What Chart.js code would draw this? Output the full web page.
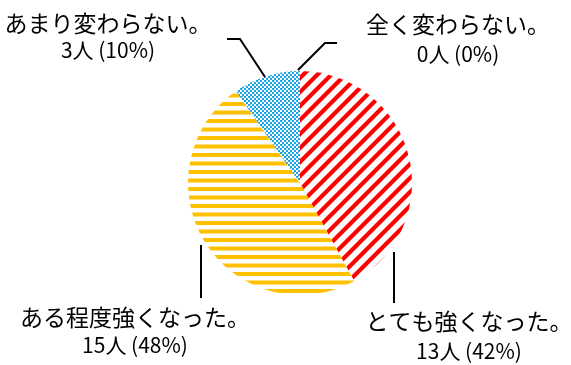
<!DOCTYPE html>
<html>
<head>
<meta charset="utf-8">
<script src="https://cdn.jsdelivr.net/npm/chart.js@4/dist/chart.umd.min.js"></script>
<style>
  body { margin: 0; background: #fff; }
  #wrap { width: 571px; height: 365px; }
</style>
</head>
<body>
<div id="wrap"><canvas id="pie"></canvas></div>
<script>
// answers and number of people
var answers = ['とても強くなった。', 'ある程度強くなった。', 'あまり変わらない。', '全く変わらない。'];
var counts = [13, 15, 3, 0];
var unit = '人';

// where each label sits and where its leader line runs
var labelLayout = [
    { x: 469, y1: 321, y2: 351, line: [[394, 252], [394, 303]] },
    { x: 135, y1: 317, y2: 345, line: [[201, 245], [201, 298]] },
    { x: 108, y1: 23, y2: 50, line: [[265, 77], [240, 39], [227, 39]] },
    { x: 458, y1: 24, y2: 54, line: [[298, 70], [325, 43], [337, 43]] }
];

function makeTile(w, h, drawFn) {
    var c = document.createElement('canvas');
    c.width = w; c.height = h;
    var g = c.getContext('2d');
    drawFn(g, w, h);
    return g.createPattern(c, 'repeat');
}

// red diagonal stripes
var redStripes = makeTile(14, 14, function (g, w, h) {
    g.strokeStyle = '#ff0000';
    g.lineWidth = 4.2;
    g.beginPath();
    g.moveTo(-7, 7); g.lineTo(7, -7);
    g.moveTo(0, 14); g.lineTo(14, 0);
    g.moveTo(7, 21); g.lineTo(21, 7);
    g.stroke();
});

// orange horizontal stripes
var orangeStripes = makeTile(4, 17, function (g, w, h) {
    g.fillStyle = '#ffc000';
    g.fillRect(0, 0, w, 4);
    g.fillRect(0, 8.5, w, 4);
});

// blue dotted check
var blueDots = makeTile(8, 8, function (g, w, h) {
    g.fillStyle = '#ffffff';
    g.fillRect(0, 0, w, h);
    g.fillStyle = '#1ea3e4';
    for (var y = 0; y < h; y += 2) {
        for (var x = 0; x < w; x += 2) {
            if (((x + y) / 2) % 2 === 0) g.fillRect(x, y, 2, 2);
        }
    }
    g.fillStyle = '#6cc3ee';
    g.fillRect(2, 0, 1, 1);
    g.fillRect(6, 4, 1, 1);
});

var total = counts.reduce(function (a, b) { return a + b; }, 0);

var labelPlugin = {
    id: 'pieLabels',
    afterDraw: function (chart) {
        var ctx = chart.ctx;
        ctx.save();
        ctx.strokeStyle = '#000';
        ctx.lineWidth = 2;
        ctx.fillStyle = '#000';
        ctx.textAlign = 'center';
        ctx.textBaseline = 'middle';
        answers.forEach(function (name, i) {
            var lay = labelLayout[i];
            ctx.beginPath();
            lay.line.forEach(function (p, k) {
                if (k === 0) ctx.moveTo(p[0], p[1]); else ctx.lineTo(p[0], p[1]);
            });
            ctx.stroke();
            var pct = Math.round(counts[i] / total * 100);
            ctx.font = '23px "Noto Sans CJK JP"';
            ctx.fillText(name, lay.x, lay.y1);
            ctx.font = '21px "Noto Sans CJK JP"';
            ctx.fillText(counts[i] + unit + ' (' + pct + '%)', lay.x, lay.y2);
        });
        ctx.restore();
    }
};

new Chart(document.getElementById('pie'), {
    type: 'pie',
    data: {
        labels: answers,
        datasets: [{
            data: counts,
            backgroundColor: [redStripes, orangeStripes, blueDots, '#ffffff'],
            borderWidth: 0
        }]
    },
    options: {
        responsive: true,
        maintainAspectRatio: false,
        animation: false,
        layout: {
            padding: { left: 188, right: 159, top: 71, bottom: 70 }
        },
        plugins: {
            legend: { display: false },
            tooltip: { enabled: false }
        }
    },
    plugins: [labelPlugin]
});
</script>
</body>
</html>
